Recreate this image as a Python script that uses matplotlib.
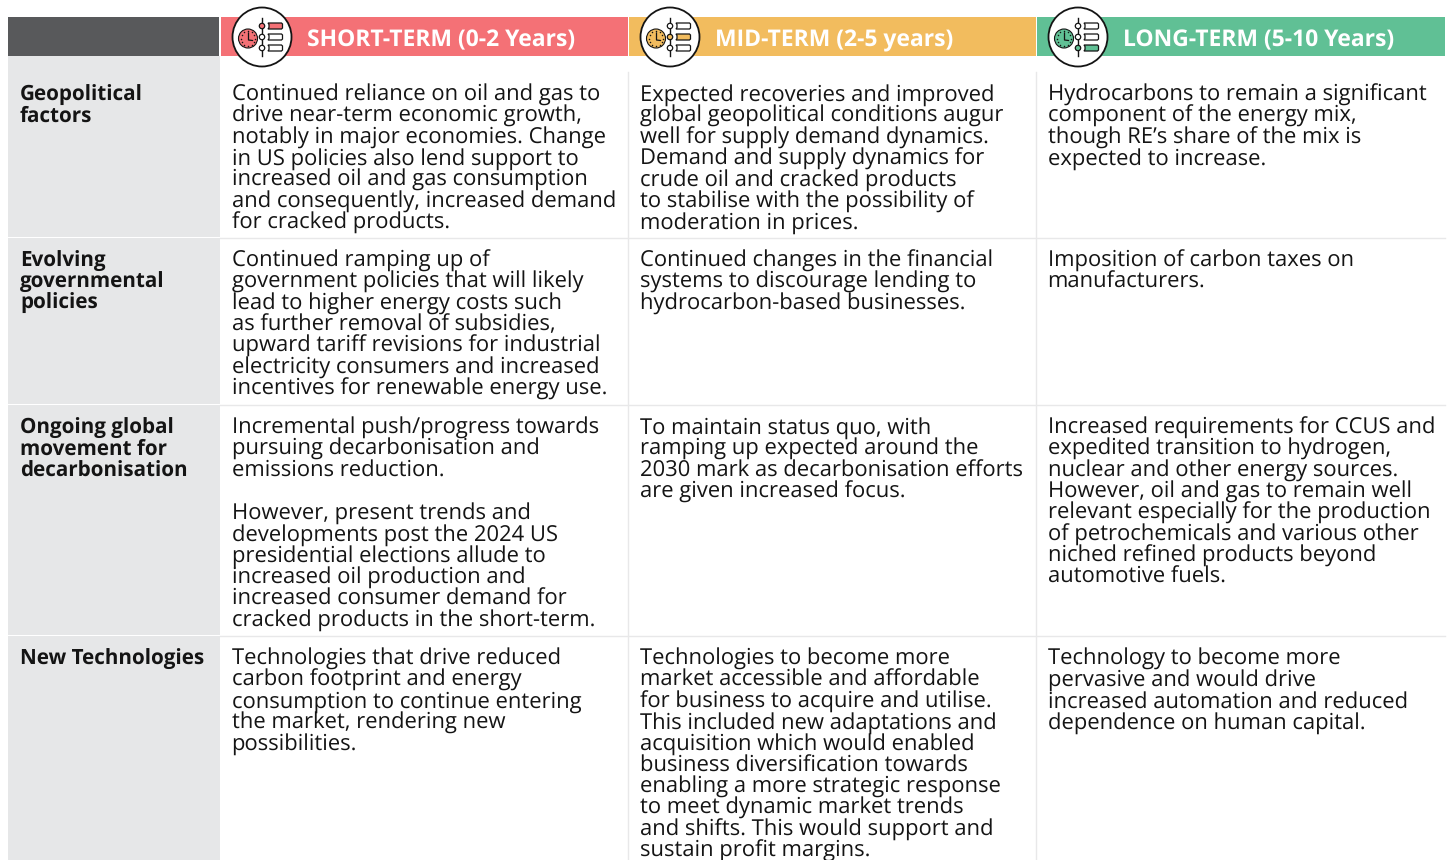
#!/usr/bin/env python3
# -*- coding: utf-8 -*-
"""
Table of oil and gas outlook factors over three time horizons.
"""
import matplotlib
matplotlib.use("Agg")
import matplotlib.pyplot as plt
from matplotlib.patches import Circle, Polygon, Rectangle
import numpy as np

# Table content.
headers = ["SHORT-TERM (0-2 Years)", "MID-TERM (2-5 years)", "LONG-TERM (5-10 Years)"]
header_colors = ["#f47176", "#f2bc5e", "#60c095"]
row_labels = [
    ["Geopolitical", "factors"],
    ["Evolving", "governmental", "policies"],
    ["Ongoing global", "movement for", "decarbonisation"],
    ["New Technologies"],
]
short_term = [
    ["Continued reliance on oil and gas to", "drive near-term economic growth,",
     "notably in major economies. Change", "in US policies also lend support to",
     "increased oil and gas consumption", "and consequently, increased demand",
     "for cracked products."],
    ["Continued ramping up of", "government policies that will likely",
     "lead to higher energy costs such", "as further removal of subsidies,",
     "upward tariff revisions for industrial", "electricity consumers and increased",
     "incentives for renewable energy use."],
    ["Incremental push/progress towards", "pursuing decarbonisation and",
     "emissions reduction.", "", "However, present trends and",
     "developments post the 2024 US", "presidential elections allude to",
     "increased oil production and", "increased consumer demand for",
     "cracked products in the short-term."],
    ["Technologies that drive reduced", "carbon footprint and energy",
     "consumption to continue entering", "the market, rendering new", "possibilities."],
]
mid_term = [
    ["Expected recoveries and improved", "global geopolitical conditions augur",
     "well for supply demand dynamics.", "Demand and supply dynamics for",
     "crude oil and cracked products", "to stabilise with the possibility of",
     "moderation in prices."],
    ["Continued changes in the financial", "systems to discourage lending to",
     "hydrocarbon-based businesses."],
    ["To maintain status quo, with", "ramping up expected around the",
     "2030 mark as decarbonisation efforts", "are given increased focus."],
    ["Technologies to become more", "market accessible and affordable",
     "for business to acquire and utilise.", "This included new adaptations and",
     "acquisition which would enabled", "business diversification towards",
     "enabling a more strategic response", "to meet dynamic market trends",
     "and shifts. This would support and", "sustain profit margins."],
]
long_term = [
    ["Hydrocarbons to remain a significant", "component of the energy mix,",
     "though RE\u2019s share of the mix is", "expected to increase."],
    ["Imposition of carbon taxes on", "manufacturers."],
    ["Increased requirements for CCUS and", "expedited transition to hydrogen,",
     "nuclear and other energy sources.", "However, oil and gas to remain well",
     "relevant especially for the production", "of petrochemicals and various other",
     "niched refined products beyond", "automotive fuels."],
    ["Technology to become more", "pervasive and would drive",
     "increased automation and reduced", "dependence on human capital."],
]

# Layout, in pixels of the picture.
col_x = [220, 628, 1036, 1445]
row_y = [56, 238, 405, 636, 861]
first_base = [100.6, 266.6, 433.6, 664.6]
line_h = 21.35
ink = "#141414"

plt.rcParams['font.family'] = ['Open Sans', 'DejaVu Sans']
plt.rcParams['text.hinting'] = 'no_hinting'
fig = plt.figure(figsize=(14.52, 8.6), dpi=100)
ax = fig.add_axes([0, 0, 1, 1])
ax.set_xlim(0, 1452)
ax.set_ylim(860, 0)
ax.axis('off')


def draw_icon(cx, cy, color, slot):
    ax.add_patch(Circle((cx, cy), 29.5, fc='white', ec=ink, lw=1.3, zorder=3))
    # clock face with dotted hours
    clock_x, clock_y = cx - 14, cy + 1.5
    ax.add_patch(Circle((clock_x, clock_y), 9.5, fc=color, ec=ink, lw=0.8, zorder=4))
    angles = np.arange(12) * np.pi / 6
    ax.scatter(clock_x + 7.3 * np.cos(angles), clock_y + 7.3 * np.sin(angles),
               s=1.2, color=ink, linewidths=0, zorder=5)
    ax.plot([clock_x + 0.5, clock_x + 0.5, clock_x + 4.5], [clock_y - 5.5, clock_y + 1.5, clock_y + 2],
            color=ink, lw=0.9, zorder=5)
    # timeline with three tags
    ax.plot([cx, cx], [cy - 19, cy + 19], color=ink, lw=1, zorder=4)
    for i, dy in enumerate([-11, 0, 11]):
        fill = color if i == slot else 'white'
        ax.add_patch(Circle((cx, cy + dy), 2.7, fc=fill, ec=ink, lw=0.9, zorder=5))
        x0, x1, y = cx + 6, cx + 20.5, cy + dy
        tag = [(x0, y - 3), (x1 - 1, y - 3), (x1, y - 2), (x1, y + 2), (x1 - 1, y + 3),
               (x0, y + 3), (x0 + 1, y + 1.5), (x0 + 1, y - 1.5)]
        ax.add_patch(Polygon(tag, closed=True, fc=fill, ec=ink, lw=0.9, zorder=5))


# Header band.
ax.add_patch(Rectangle((8, 17), 211, 39, fc="#58595b", ec='none'))
for i, name in enumerate(headers):
    ax.add_patch(Rectangle((col_x[i] + 1, 17), col_x[i + 1] - col_x[i] - 1, 39,
                           fc=header_colors[i], ec='none'))
    ax.text(col_x[i] + 87, 46.3, name, color='white', fontsize=16.5, fontweight='bold',
            va='baseline', ha='left')
    draw_icon(col_x[i] + 42, 37, header_colors[i], i)

# Row label column and rules.
for r in range(4):
    ax.add_patch(Rectangle((8, row_y[r]), 212, row_y[r + 1] - row_y[r] - 1, fc="#e6e7e8", ec='none'))
    for k, text in enumerate(row_labels[r]):
        ax.text(20, first_base[r] + k * line_h, text, color=ink, fontsize=14.9, fontweight='bold',
                va='baseline', ha='left')
    if r < 3:
        ax.plot([220, 1445], [row_y[r + 1], row_y[r + 1]], color="#e8e8e9", lw=1)
for x in col_x[1:3]:
    ax.plot([x, x], [72, 860], color="#e8e8e9", lw=1)

# Body text.
for c, column in enumerate([short_term, mid_term, long_term]):
    for r, cell in enumerate(column):
        for k, text in enumerate(cell):
            if text:
                ax.text(col_x[c] + 11.5, first_base[r] + k * line_h, text, color=ink, fontsize=15.8,
                        va='baseline', ha='left')

fig.savefig('out.png', dpi=100)
